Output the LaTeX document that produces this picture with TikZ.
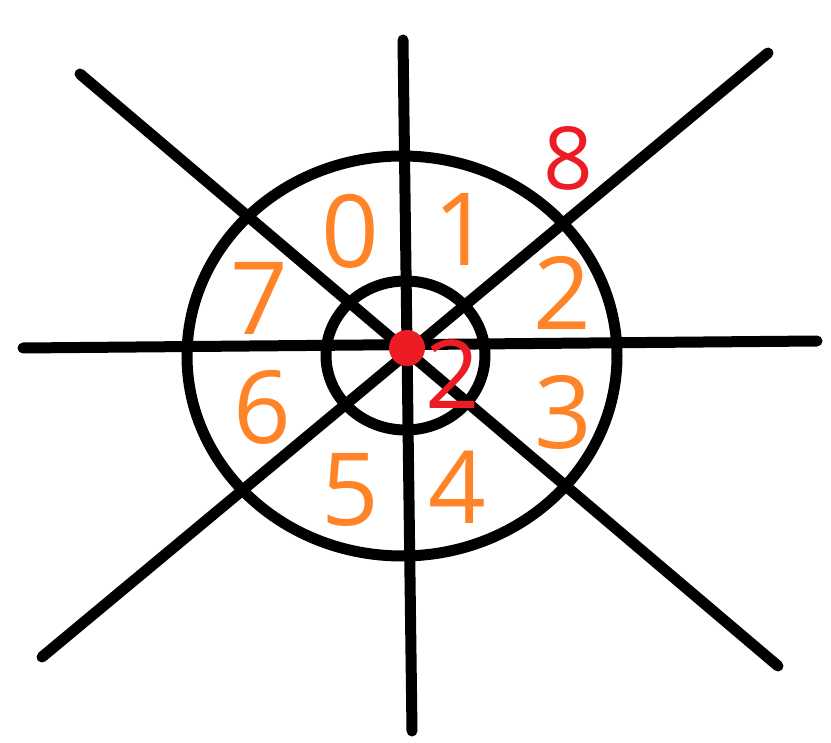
\documentclass[tikz,border=0pt]{standalone}
\usepackage{fontspec}
\setmainfont{Open Sans}
\definecolor{digorange}{RGB}{255,132,40}
\definecolor{digred}{RGB}{237,28,36}
\begin{document}
\begin{tikzpicture}[x=1pt,y=-1pt,
  stroke/.style={line width=11pt,line cap=round,black},
  ring/.style={line width=11pt,black},
  sector/.style={text=digorange,font=\fontsize{101}{101}\selectfont,inner sep=0pt,anchor=center},
  marker/.style={text=digred,inner sep=0pt,anchor=center}]
\useasboundingbox (0,0) rectangle (831,743);
% line end points
\coordinate (top) at (403,40);
\coordinate (bot) at (412,731);
\coordinate (lft) at (23,348);
\coordinate (rgt) at (817,341);
\coordinate (nw) at (80,74);
\coordinate (se) at (778,666);
\coordinate (ne) at (768,53);
\coordinate (sw) at (42,657);
\draw[stroke] (top) -- (bot);
\draw[stroke] (lft) -- (rgt);
\draw[stroke] (nw) -- (se);
\draw[stroke] (ne) -- (sw);
% rings
\coordinate (big) at (402,356);
\coordinate (small) at (405.5,355.5);
\draw[ring] (big) ellipse [x radius=215,y radius=200];
\draw[ring] (small) ellipse [x radius=79.5,y radius=74.5];
% centre dot
\fill[digred] (407,348) circle [radius=18];
% sector numbers
\node[sector] (n0) at (350,231) {0};
\node[sector] (n1) at (462,229) {1};
\node[sector] (n2) at (562,293) {2};
\node[sector] (n3) at (563,412) {3};
\node[sector] (n4) at (457,487) {4};
\node[sector] (n5) at (350,490) {5};
\node[sector] (n6) at (262,407) {6};
\node[sector] (n7) at (259,298) {7};
% red labels
\node[marker,font=\fontsize{87}{87}\selectfont] (r8) at (568,158) {8};
\node[marker,font=\fontsize{95}{95}\selectfont] (r2) at (453,374) {2};
\end{tikzpicture}
\end{document}
